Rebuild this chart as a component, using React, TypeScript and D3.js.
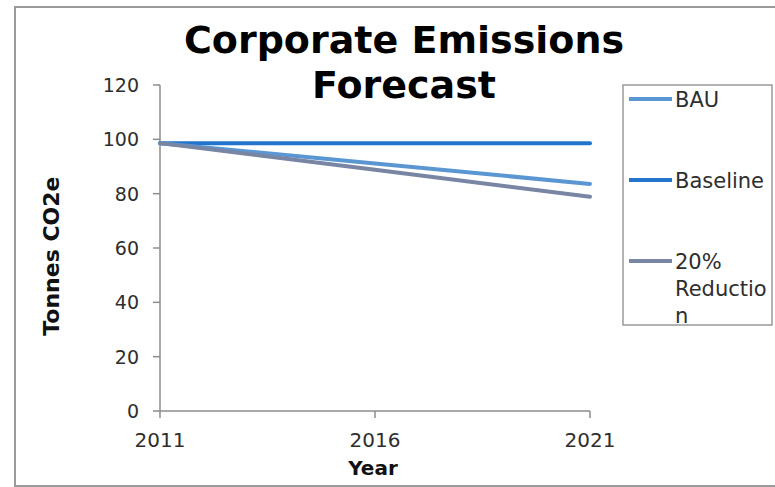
import React from "react";
import * as d3 from "d3";

// Forecast years and emission series (tonnes CO2e)
const years = [2011, 2016, 2021];
const bau = [98.6, 91.1, 83.6];
const baseline = [98.6, 98.6, 98.6];
const reduction20 = [98.6, 88.8, 78.9];

const yTicks = [0, 20, 40, 60, 80, 100, 120];
const seriesNames = ["BAU", "Baseline", "20% Reduction"];
const seriesColors = ["#5a97d2", "#2375cc", "#7885a3"];
const legendLabelLines = [["BAU"], ["Baseline"], ["20%", "Reductio", "n"]];

const W = 775;
const H = 487;
const font = "'DejaVu Sans', Verdana, sans-serif";

export default function App() {
  const x = d3.scaleLinear().domain([2011, 2021]).range([160, 590]);
  const y = d3.scaleLinear().domain([0, 120]).range([411, 85]);

  const line = d3
    .line<[number, number]>()
    .x((d) => x(d[0]))
    .y((d) => y(d[1]));

  const series = [bau, baseline, reduction20];
  // drawing order: Baseline underneath, then BAU, then reduction on top
  const drawOrder = [1, 0, 2];

  const legendY = [99, 180, 261];

  return (
    <svg
      width={W}
      height={H}
      style={{ position: "absolute", left: 0, top: 0, background: "#fff" }}
    >
      {/* chart frame */}
      <rect x={15} y={7} width={800} height={479} fill="#fff" stroke="#9a9a9a" strokeWidth={2} />

      {/* title */}
      <text x={404} y={53} textAnchor="middle" fontFamily={font} fontWeight="bold" fontSize={38} fill="#000">
        Corporate Emissions
      </text>
      <text x={404} y={98} textAnchor="middle" fontFamily={font} fontWeight="bold" fontSize={38} fill="#000">
        Forecast
      </text>

      {/* y axis */}
      <line x1={x(2011)} x2={x(2011)} y1={y(120)} y2={y(0)} stroke="#8c8c8c" strokeWidth={1.5} />
      {yTicks.map((t) => (
        <g key={t}>
          <line x1={x(2011) - 7} x2={x(2011)} y1={y(t)} y2={y(t)} stroke="#8c8c8c" strokeWidth={1.5} />
          <text
            x={x(2011) - 21}
            y={y(t)}
            dy="0.36em"
            textAnchor="end"
            fontFamily={font}
            fontSize={19}
            fill="#2e2e2e"
          >
            {t}
          </text>
        </g>
      ))}

      {/* x axis */}
      <line x1={x(2011)} x2={x(2021)} y1={y(0)} y2={y(0)} stroke="#8c8c8c" strokeWidth={1.5} />
      {years.map((yr) => (
        <g key={yr}>
          <line x1={x(yr)} x2={x(yr)} y1={y(0)} y2={y(0) + 7} stroke="#8c8c8c" strokeWidth={1.5} />
          <text x={x(yr)} y={447} textAnchor="middle" fontFamily={font} fontSize={20} fill="#2e2e2e">
            {yr}
          </text>
        </g>
      ))}

      {/* axis titles */}
      <text x={373} y={475} textAnchor="middle" fontFamily={font} fontWeight="bold" fontSize={20} fill="#111">
        Year
      </text>
      <text
        transform={`translate(59, ${y(57)}) rotate(-90)`}
        textAnchor="middle"
        fontFamily={font}
        fontWeight="bold"
        fontSize={22}
        fill="#111"
      >
        Tonnes CO2e
      </text>

      {/* series lines */}
      {drawOrder.map((i) => (
        <path
          key={seriesNames[i]}
          d={line(years.map((yr, k) => [yr, series[i][k]] as [number, number])) || ""}
          fill="none"
          stroke={seriesColors[i]}
          strokeWidth={4}
          strokeLinecap="round"
        />
      ))}

      {/* legend */}
      <rect x={623} y={85} width={149} height={240} fill="#fff" stroke="#9a9a9a" strokeWidth={1.5} />
      {seriesNames.map((name, i) => (
        <g key={name}>
          <line x1={629} x2={672} y1={legendY[i]} y2={legendY[i]} stroke={seriesColors[i]} strokeWidth={4} />
          {legendLabelLines[i].map((ln, j) => (
            <text
              key={j}
              x={675}
              y={legendY[i] + j * 27}
              dy="0.36em"
              fontFamily={font}
              fontSize={21}
              fill="#2e2e2e"
            >
              {ln}
            </text>
          ))}
        </g>
      ))}
    </svg>
  );
}
